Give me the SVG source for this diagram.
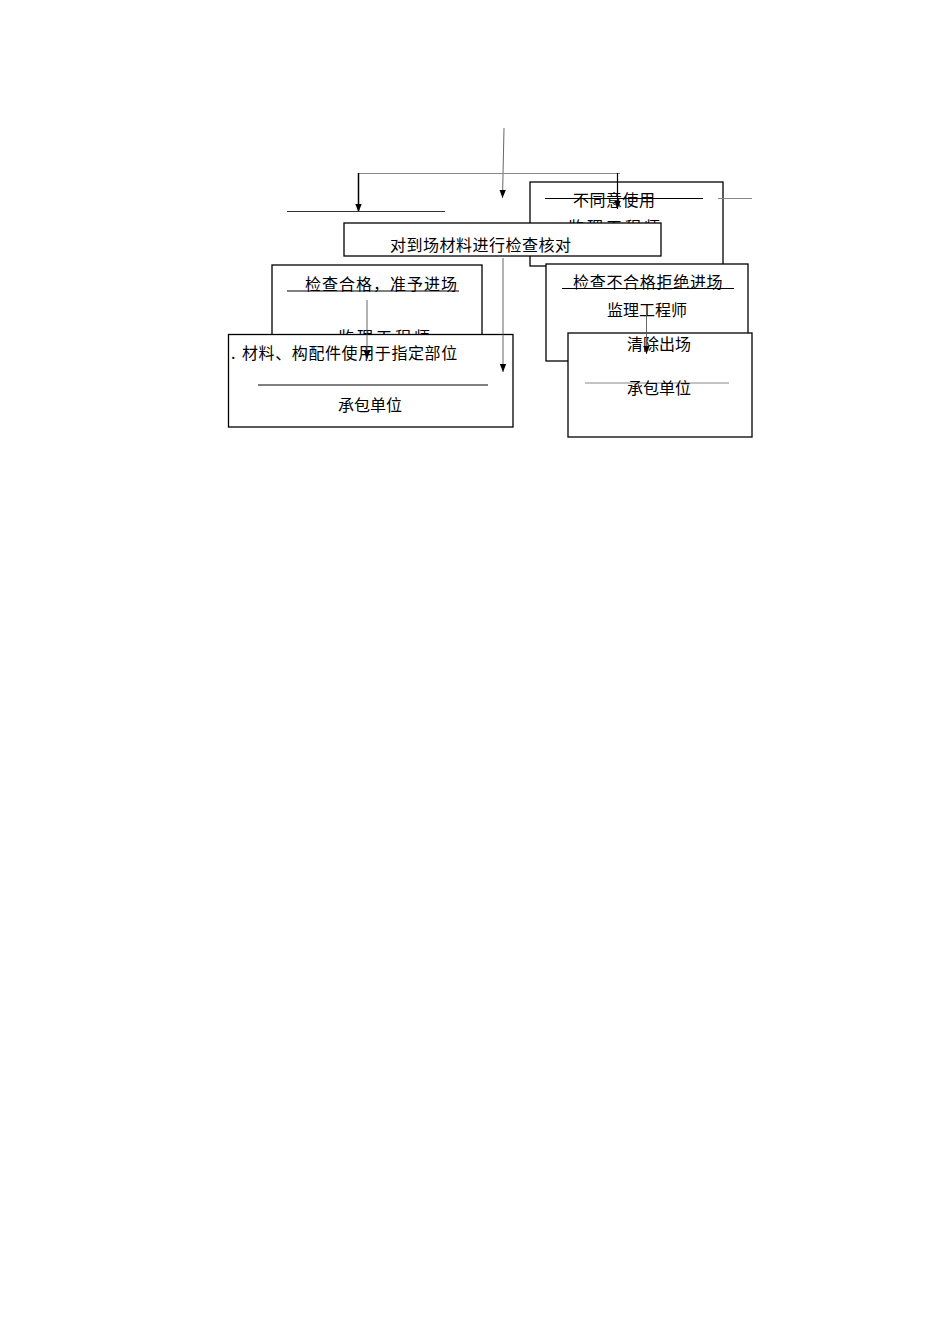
<svg xmlns="http://www.w3.org/2000/svg" width="950" height="1344" viewBox="0 0 950 1344">
<style>
.box{fill:#fff;stroke:#000;stroke-width:1.3}
.t{font-family:"Noto Sans CJK SC","Liberation Serif",sans-serif;font-size:16px;fill:#000}
.ln{stroke:#000;stroke-width:1;fill:none}
.gl{stroke:#888;stroke-width:1;fill:none}
.cn{stroke:#555;stroke-width:0.9;fill:none}
</style>
<defs>
<marker id="ah" markerUnits="userSpaceOnUse" markerWidth="8" markerHeight="9" refX="4" refY="8" orient="auto-start-reverse" viewBox="0 0 8 9">
<path d="M0,0 L8,0 L4,8 Z" fill="#000" transform="rotate(-90 4 4.5) translate(0 0)"/>
</marker>
<marker id="a2" markerUnits="userSpaceOnUse" markerWidth="8" markerHeight="9" refX="8" refY="4" orient="auto" viewBox="0 0 8 8">
<path d="M0,0.8 L8,4 L0,7.2 Z" fill="#000"/>
</marker>
</defs>
<rect width="950" height="1344" fill="#fff"/>
<g id="n-disagree">
<rect class="box" x="530" y="182" width="193" height="84"/>
<text class="t" x="573" y="206" style="letter-spacing:0.5px">不同意使用</text>
<text class="t" x="568" y="233" style="letter-spacing:3px">监理工程师</text>
<line class="ln" x1="545" y1="198.5" x2="703" y2="198.5"/>
</g>
<g id="n-check">
<rect class="box" x="344" y="223" width="317" height="33"/>
<text class="t" x="390" y="251" style="letter-spacing:0.5px">对到场材料进行检查核对</text>
</g>
<g id="n-pass">
<rect class="box" x="272" y="265" width="210" height="80"/>
<text class="t" x="305" y="290" style="letter-spacing:1px">检查合格，准予进场</text>
<line class="ln" x1="287" y1="291" x2="459" y2="291"/>
<text class="t" x="338" y="343" style="letter-spacing:3px">监理工程师</text>
</g>
<g id="n-use">
<rect class="box" x="228.5" y="334.5" width="284.5" height="92.5"/>
<text class="t" x="231" y="359">. <tspan x="242" style="letter-spacing:0.6px">材料、构配件使用于指定部位</tspan></text>
<line class="ln" x1="258" y1="385" x2="488" y2="385"/>
<text class="t" x="338" y="411">承包单位</text>
</g>
<g id="n-fail">
<rect class="box" x="546" y="264" width="202" height="97"/>
<text class="t" x="573" y="288" style="letter-spacing:0.7px">检查不合格拒绝进场</text>
<line class="ln" x1="562" y1="288.5" x2="734" y2="288.5"/>
<text class="t" x="607" y="316">监理工程师</text>
</g>
<g id="n-remove">
<rect class="box" x="568" y="333" width="184" height="104"/>
<text class="t" x="627" y="350">清除出场</text>
<line class="gl" x1="585" y1="383" x2="729" y2="383"/>
<text class="t" x="627" y="394">承包单位</text>
</g>
<g id="connectors">
<line class="cn" x1="504" y1="128" x2="502.5" y2="198" marker-end="url(#a2)"/>
<line class="gl" x1="358" y1="173.5" x2="620" y2="173.5"/>
<line stroke="#000" stroke-width="1.5" x1="358.5" y1="173" x2="358.5" y2="212" marker-end="url(#a2)"/>
<line stroke="#000" stroke-width="1.2" x1="617.5" y1="173" x2="617.5" y2="209" marker-end="url(#a2)"/>
<line stroke="#333" stroke-width="1" x1="287" y1="211.5" x2="445" y2="211.5"/>
<line class="cn" x1="503" y1="258" x2="503" y2="372" marker-end="url(#a2)"/>
<line class="cn" x1="367" y1="300" x2="367" y2="359" marker-end="url(#a2)"/>
<line class="cn" x1="646.5" y1="310" x2="646.5" y2="354" marker-end="url(#a2)"/>
<line class="gl" x1="718" y1="198.5" x2="752" y2="198.5"/>
</g>
</svg>
